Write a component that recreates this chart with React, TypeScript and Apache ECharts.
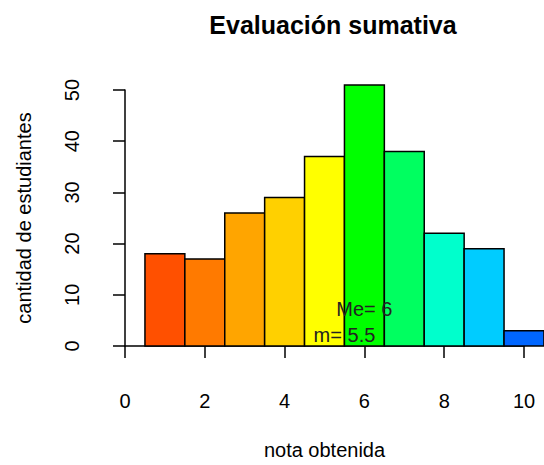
import React, { useEffect, useRef } from "react";
import * as echarts from "echarts";

const binStarts = [0.5, 1.5, 2.5, 3.5, 4.5, 5.5, 6.5, 7.5, 8.5, 9.5];
const binEnds = [1.5, 2.5, 3.5, 4.5, 5.5, 6.5, 7.5, 8.5, 9.5, 10.5];
const counts = [18, 17, 26, 29, 37, 51, 38, 22, 19, 3];
const barColors = [
  "#FF5000", "#FF7A00", "#FFA500", "#FFD000", "#FFFF00",
  "#00FF00", "#00FF60", "#00FFCC", "#00CCFF", "#0066FF",
];
const annotX = [6, 5.5];
const annotY = [7.3, 2.2];
const annotText = ["Me= 6", "m= 5.5"];

const FONT = '"Liberation Sans", Arial, sans-serif';

export default function App() {
  const ref = useRef<HTMLDivElement>(null);
  useEffect(() => {
    if (!ref.current) return;
    const chart = echarts.init(ref.current, null, { renderer: "svg" });
    const barData = counts.map((c, i) => [binStarts[i], binEnds[i], c]);
    const annotData = annotX.map((x, i) => [x, annotY[i]]);
    chart.setOption({
      animation: false,
      backgroundColor: "#ffffff",
      graphic: [
        {
          type: "text",
          x: 333,
          y: 25,
          style: {
            text: "Evaluación sumativa",
            font: `bold 25px ${FONT}`,
            fill: "#000",
            align: "center",
            verticalAlign: "middle",
          },
        },
      ],
      grid: { left: 125, width: 399, top: 90, height: 260 },
      xAxis: {
        type: "value",
        min: 0,
        max: 10,
        interval: 2,
        offset: 12,
        axisLine: { show: true, lineStyle: { color: "#000", width: 1.5 } },
        axisTick: { show: true, length: 12, lineStyle: { color: "#000", width: 1.5 } },
        axisLabel: { margin: 33, fontSize: 20, color: "#000", fontFamily: FONT },
        splitLine: { show: false },
        name: "nota obtenida",
        nameLocation: "middle",
        nameGap: 82,
        nameTextStyle: { fontSize: 20, color: "#000", fontFamily: FONT },
      },
      yAxis: {
        type: "value",
        min: 0,
        max: 50,
        interval: 10,
        offset: 18,
        axisLine: { show: true, lineStyle: { color: "#000", width: 1.5 } },
        axisTick: { show: true, length: 12, lineStyle: { color: "#000", width: 1.5 } },
        axisLabel: { margin: 25, fontSize: 20, color: "#000", fontFamily: FONT, rotate: 90 },
        splitLine: { show: false },
        name: "cantidad de estudiantes",
        nameLocation: "middle",
        nameGap: 73,
        nameRotate: 90,
        nameTextStyle: { fontSize: 20, color: "#000", fontFamily: FONT },
      },
      series: [
        {
          type: "custom",
          clip: false,
          data: barData,
          encode: { x: [0, 1], y: 2 },
          renderItem: (params: any, api: any) => {
            const p0 = api.coord([api.value(0), api.value(2)]);
            const p1 = api.coord([api.value(1), 0]);
            return {
              type: "rect",
              shape: { x: p0[0], y: p0[1], width: p1[0] - p0[0], height: p1[1] - p0[1] },
              style: { fill: barColors[params.dataIndex], stroke: "#000", lineWidth: 1.5 },
            };
          },
        },
        {
          type: "custom",
          clip: false,
          data: annotData,
          encode: { x: 0, y: 1 },
          z: 5,
          renderItem: (params: any, api: any) => {
            const p = api.coord([api.value(0), api.value(1)]);
            return {
              type: "text",
              x: p[0],
              y: p[1],
              style: {
                text: annotText[params.dataIndex],
                font: `20px ${FONT}`,
                fill: "#222",
                align: "center",
                verticalAlign: "middle",
              },
            };
          },
        },
      ],
    });
    return () => chart.dispose();
  }, []);
  return (
    <div
      ref={ref}
      style={{ position: "fixed", left: 0, top: 0, width: 544, height: 465 }}
    />
  );
}
